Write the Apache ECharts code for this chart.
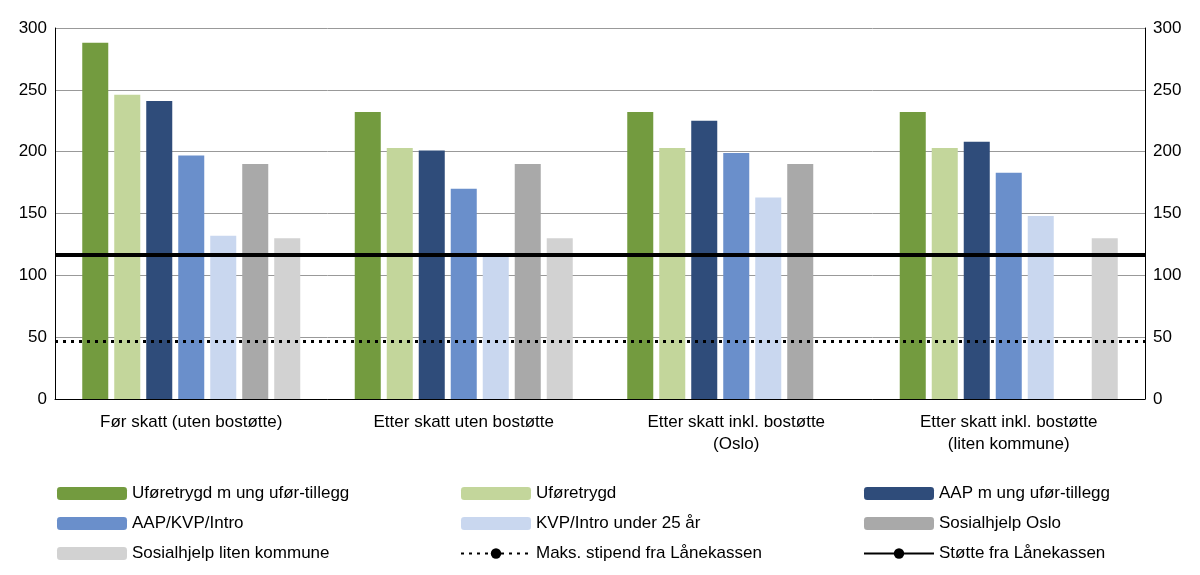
<!DOCTYPE html>
<html><head><meta charset="utf-8">
<script src="https://cdn.jsdelivr.net/npm/echarts@6/dist/echarts.min.js"></script>
<style>html,body{margin:0;background:#fff}#c{width:1200px;height:575px}</style>
</head><body><div id="c"></div>
<script>
const categories = ['Før skatt (uten bostøtte)', 'Etter skatt uten bostøtte', 'Etter skatt inkl. bostøtte\n(Oslo)', 'Etter skatt inkl. bostøtte\n(liten kommune)'];
const names = ['Uføretrygd m ung ufør-tillegg', 'Uføretrygd', 'AAP m ung ufør-tillegg', 'AAP/KVP/Intro', 'KVP/Intro under 25 år', 'Sosialhjelp Oslo', 'Sosialhjelp liten kommune'];
const colors = ['#739b3f', '#c3d69b', '#2f4c7a', '#6a8fcb', '#c9d7ef', '#a9a9a9', '#d2d2d2'];
const values = [
  [288, 232, 232, 232],
  [246, 203, 203, 203],
  [241, 201, 225, 208],
  [197, 170, 199, 183],
  [132, 116, 163, 148],
  [190, 190, 190, null],
  [130, 130, null, 130]
];
const maxStipend = 47;
const stotte = 117;

const series = names.map((n, i) => ({
  name: n, type: 'bar', yAxisIndex: 0, data: values[i], barGap: '23%', barCategoryGap: '20%',
  itemStyle: { color: colors[i] }
}));
series.push({
  name: 'Maks. stipend fra Lånekassen', type: 'line', data: [], symbol: 'none',
  lineStyle: { color: '#000', width: 3, type: [3, 5] }, itemStyle: { color: '#000' },
  markLine: { silent: true, symbol: 'none', label: { show: false },
    lineStyle: { color: '#000', width: 3, type: [3, 5] }, data: [{ yAxis: maxStipend }] }
});
series.push({
  name: 'Støtte fra Lånekassen', type: 'line', data: [], symbol: 'none',
  lineStyle: { color: '#000', width: 4 }, itemStyle: { color: '#000' },
  markLine: { silent: true, symbol: 'none', label: { show: false },
    lineStyle: { color: '#000', width: 4, type: 'solid' }, data: [{ yAxis: stotte }] }
});

const legendBase = { orient: 'vertical', top: 480, itemWidth: 70, itemHeight: 13, itemGap: 13,
  textStyle: { fontSize: 17, color: '#000', fontFamily: 'Liberation Sans' } };
const yAx = { type: 'value', min: 0, max: 300, interval: 50,
  axisLabel: { fontSize: 17, color: '#000', fontFamily: 'Liberation Sans' },
  axisLine: { show: true, lineStyle: { color: '#000' } }, axisTick: { show: false },
  splitLine: { lineStyle: { color: '#999' } } };

echarts.init(document.getElementById('c')).setOption({
  animation: false,
  grid: { left: 55, right: 55, top: 28, bottom: 176 },
  legend: [
    Object.assign({ left: 52, data: [names[0], names[3], names[6]] }, legendBase),
    Object.assign({ left: 455, data: [names[1], names[4], 'Maks. stipend fra Lånekassen'] }, legendBase),
    Object.assign({ left: 858, data: [names[2], names[5], 'Støtte fra Lånekassen'] }, legendBase)
  ],
  xAxis: { type: 'category', data: categories,
    axisLabel: { fontSize: 17, color: '#000', fontFamily: 'Liberation Sans', lineHeight: 22, margin: 12 },
    axisLine: { lineStyle: { color: '#000' } }, axisTick: { show: false } },
  yAxis: [yAx, Object.assign({}, yAx, { position: 'right', splitLine: { show: false } })],
  series: series
});
</script></body></html>
